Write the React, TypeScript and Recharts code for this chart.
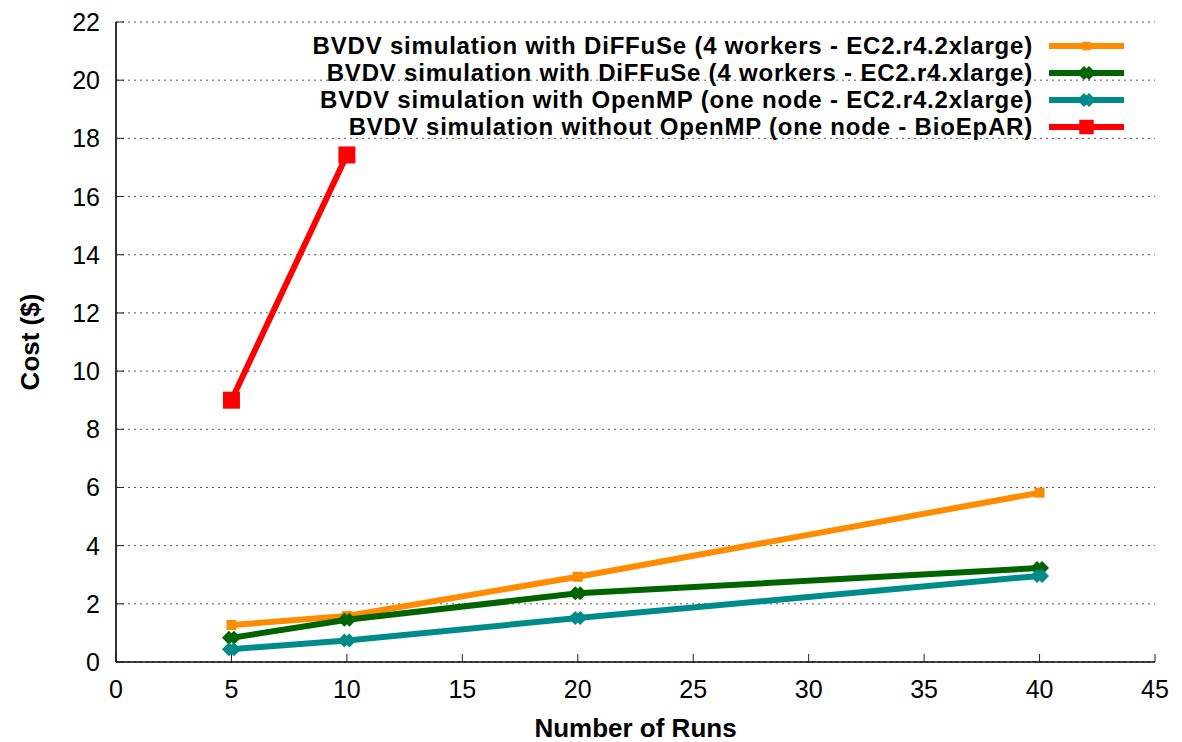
import { LineChart, Line, XAxis, YAxis, CartesianGrid, Legend } from "recharts";

// values
const runs = [5, 10, 20, 40];
const diffuse2xlarge = [1.27, 1.58, 2.93, 5.82];
const diffuseXlarge = [0.83, 1.45, 2.36, 3.23];
const openmp2xlarge = [0.44, 0.74, 1.51, 2.96];
const noOpenmpBioepar = [9.0, 17.43];

const xTicks = [0, 5, 10, 15, 20, 25, 30, 35, 40, 45];
const yTicks = [0, 2, 4, 6, 8, 10, 12, 14, 16, 18, 20, 22];

type Shape = "square" | "diamond";

const series: Array<{ key: string; name: string; color: string; shape: Shape; size: number }> = [
  { key: "diffuse2x", name: "BVDV simulation with DiFFuSe (4 workers - EC2.r4.2xlarge)", color: "#ff8c00", shape: "square", size: 10 },
  { key: "diffuse1x", name: "BVDV simulation with DiFFuSe (4 workers - EC2.r4.xlarge)", color: "#006400", shape: "diamond", size: 14 },
  { key: "openmp", name: "BVDV simulation with OpenMP (one node - EC2.r4.2xlarge)", color: "#008b8b", shape: "diamond", size: 14 },
  { key: "noOpenmp", name: "BVDV simulation without OpenMP (one node - BioEpAR)", color: "#ff0000", shape: "square", size: 17 },
];

const data = runs.map((r, i) => ({
  runs: r,
  diffuse2x: diffuse2xlarge[i],
  diffuse1x: diffuseXlarge[i],
  openmp: openmp2xlarge[i],
  noOpenmp: noOpenmpBioepar[i],
}));

const FONT = '"Liberation Sans", Arial, Helvetica, sans-serif';
const TICK_LEN = 8;
const TICK_COLOR = "#222";

function Marker({ cx, cy, shape, size, color }: { cx: number; cy: number; shape: Shape; size: number; color: string }) {
  if (cx == null || cy == null || isNaN(cx) || isNaN(cy)) return null;
  if (shape === "square") {
    return <rect x={cx - size / 2} y={cy - size / 2} width={size} height={size} fill={color} />;
  }
  const r = size / 2;
  const d = 2.5;
  const dia = (ox: number) =>
    `${cx + ox},${cy - r} ${cx + ox + r},${cy} ${cx + ox},${cy + r} ${cx + ox - r},${cy}`;
  return (
    <g>
      <polygon points={dia(-d)} fill={color} />
      <polygon points={dia(d)} fill={color} />
    </g>
  );
}

// inward ticks, gnuplot style
function BottomTick({ x, y, payload }: any) {
  return (
    <g>
      <line x1={x} y1={y} x2={x} y2={y - TICK_LEN} stroke={TICK_COLOR} />
      <text x={x} y={y + 36} textAnchor="middle" fontSize={25} fill="#000" fontFamily={FONT}>
        {payload.value}
      </text>
    </g>
  );
}

function TopTick({ x, y }: any) {
  return <line x1={x} y1={y} x2={x} y2={y + TICK_LEN} stroke={TICK_COLOR} />;
}

function LeftTick({ x, y, payload }: any) {
  return (
    <g>
      <line x1={x} y1={y} x2={x + TICK_LEN} y2={y} stroke={TICK_COLOR} />
      <text x={x - 16} y={y} dy="0.36em" textAnchor="end" fontSize={25} fill="#000" fontFamily={FONT}>
        {payload.value}
      </text>
    </g>
  );
}

function RightTick({ x, y }: any) {
  return <line x1={x} y1={y} x2={x - TICK_LEN} y2={y} stroke={TICK_COLOR} />;
}

function LegendContent() {
  return (
    <div style={{ fontFamily: FONT, fontWeight: "bold", fontSize: 24, letterSpacing: 0.8, color: "#000" }}>
      {series.map((s) => (
        <div
          key={s.key}
          style={{ display: "flex", justifyContent: "flex-end", alignItems: "center", height: 27 }}
        >
          <span style={{ marginRight: 16, whiteSpace: "nowrap", lineHeight: "27px" }}>{s.name}</span>
          <svg width={75} height={22} style={{ display: "block" }}>
            <line x1={0} y1={11} x2={75} y2={11} stroke={s.color} strokeWidth={6} />
            <Marker cx={37.5} cy={11} shape={s.shape} size={s.shape === "square" ? s.size * 0.85 : s.size} color={s.color} />
          </svg>
        </div>
      ))}
    </div>
  );
}

export default function App() {
  const axisLine = { stroke: "#000", strokeWidth: 1.6 };
  const titleStyle = { fontSize: 26, fontWeight: "bold", fill: "#000", fontFamily: FONT };
  return (
    <div style={{ position: "absolute", left: 0, top: 0 }}>
      <LineChart
        width={1182}
        height={742}
        data={data}
        margin={{ top: 22, right: 27, left: 0, bottom: 0 }}
        style={{ fontFamily: FONT }}
      >
        <CartesianGrid horizontal vertical={false} stroke="#555" strokeDasharray="2 4" />
        <XAxis
          dataKey="runs"
          type="number"
          domain={[0, 45]}
          ticks={xTicks}
          height={80}
          tick={<BottomTick />}
          tickSize={0}
          tickMargin={0}
          tickLine={false}
          axisLine={axisLine}
          label={{ value: "Number of Runs", position: "insideBottom", offset: 5, style: titleStyle }}
        />
        <XAxis
          xAxisId="top"
          orientation="top"
          type="number"
          domain={[0, 45]}
          ticks={xTicks}
          height={0}
          tick={<TopTick />}
          tickSize={0}
          tickMargin={0}
          tickLine={false}
          axisLine={axisLine}
        />
        <YAxis
          type="number"
          domain={[0, 22]}
          ticks={yTicks}
          width={116}
          tick={<LeftTick />}
          tickSize={0}
          tickMargin={0}
          tickLine={false}
          axisLine={axisLine}
          label={{
            value: "Cost ($)",
            angle: -90,
            position: "insideLeft",
            offset: 30,
            textAnchor: "middle",
            style: { ...titleStyle, textAnchor: "middle" },
          }}
        />
        <YAxis
          yAxisId="right"
          orientation="right"
          type="number"
          domain={[0, 22]}
          ticks={yTicks}
          width={0}
          tick={<RightTick />}
          tickSize={0}
          tickMargin={0}
          tickLine={false}
          axisLine={axisLine}
        />
        <Legend
          layout="horizontal"
          verticalAlign="middle"
          align="center"
          content={<LegendContent />}
          wrapperStyle={{ position: "absolute", top: 32, right: 58, left: "auto", width: "auto", height: "auto" }}
        />
        {series.map((s) => (
          <Line
            key={s.key}
            dataKey={s.key}
            name={s.name}
            stroke={s.color}
            strokeWidth={6}
            isAnimationActive={false}
            connectNulls={false}
            dot={(p: any) => (
              <Marker key={`${s.key}-${p.index}`} cx={p.cx} cy={p.cy} shape={s.shape} size={s.size} color={s.color} />
            )}
            activeDot={false}
          />
        ))}
      </LineChart>
    </div>
  );
}
